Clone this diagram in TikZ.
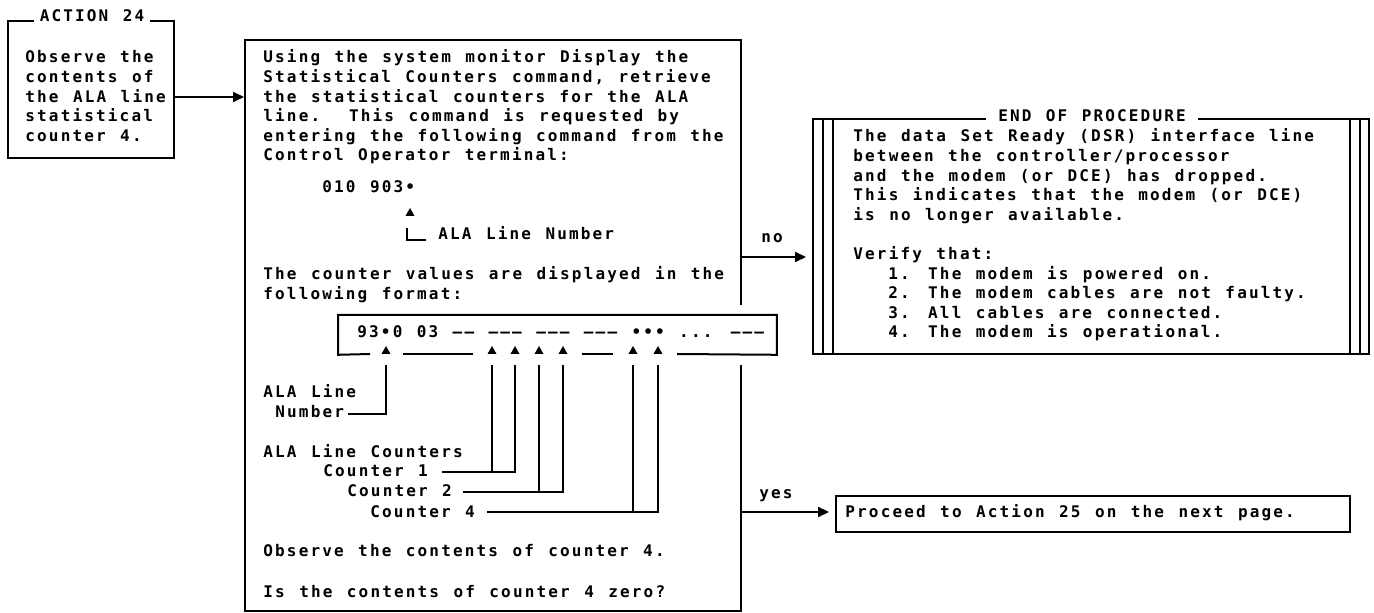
\documentclass[tikz,border=0pt]{standalone}
\usepackage{fontspec}
\newfontfamily\mono[LetterSpace=13.5,WordSpace={1.225,0,0}]{DejaVu Sans Mono}
\usetikzlibrary{arrows.meta}
\newcommand\tline[4]{\node[txt] (#1) at (#2,#3) {#4};}
\newcommand\trimark[3]{\coordinate (#1) at (#2,#3); \fill (#2-4.5,#3) -- (#2+4.5,#3) -- (#2,#3-8) -- cycle;}
\begin{document}
\begin{tikzpicture}[x=0.5pt,y=-0.5pt,
  txt/.style={anchor=base west, inner sep=0pt, font=\mono\bfseries\fontsize{8}{9.8}\selectfont},
  ttl/.style={anchor=center, inner sep=0pt, inner xsep=3pt, fill=white, font=\mono\bfseries\fontsize{8}{9.8}\selectfont},
  box/.style={draw, line width=1pt, anchor=north west, inner sep=0pt},
  ln/.style={line width=1pt},
  arr/.style={line width=1pt, -{Triangle[length=5.5pt,width=5pt]}, shorten >=3pt}]
\useasboundingbox (0,0) rectangle (1374,613);
\fill[white] (0,0) rectangle (1374,613);

% ---- action box
\node[box, minimum width=83pt, minimum height=68.5pt] (act) at (7,20) {};
\node[ttl] (acttitle) at (92,16) {ACTION 24};
\tline{a1}{25}{63}{Observe the}
\tline{a2}{25}{82.6}{contents of}
\tline{a3}{25}{102.2}{the ALA line}
\tline{a4}{25}{121.8}{statistical}
\tline{a5}{25}{141.4}{counter 4.}

% ---- main box
\node[box, minimum width=248pt, minimum height=285.5pt] (main) at (244,39) {};
\fill[white] (736,305) rectangle (744,365);
\tline{m1}{263}{63}{Using the system monitor Display the}
\tline{m2}{263}{82.6}{Statistical Counters command, retrieve}
\tline{m3}{263}{102.2}{the statistical counters for the ALA}
\tline{m4}{263}{121.8}{line.~~This command is requested by}
\tline{m5}{263}{141.4}{entering the following command from the}
\tline{m6}{263}{161}{Control Operator terminal:}
\tline{cmd}{322}{193}{010 903•}
\trimark{tc}{410}{216}
\draw[ln] (407,228) |- (426,240);
\tline{lnum}{438}{240}{ALA Line Number}
\tline{m7}{263}{280}{The counter values are displayed in the}
\tline{m8}{263}{299.6}{following format:}

% format box
\node[anchor=north west, inner sep=0pt, minimum width=219pt, minimum height=19.5pt] (fmt) at (338,315) {};
\draw[ln] (370,354) -- (fmt.south west) -- (fmt.north west) -- (fmt.north east) -- (fmt.south east) -- (677,354);
\draw[ln] (403,354) -- (473,354);
\draw[ln] (582,354) -- (613,354);
\tline{fmttxt}{357}{338}{93•0 03 –– ––– ––– ––– ••• ... –––}
\trimark{t0}{386}{354}
\trimark{t1}{492}{354}
\trimark{t2}{515}{354}
\trimark{t3}{539}{354}
\trimark{t4}{563}{354}
\trimark{t5}{633}{354}
\trimark{t6}{658}{354}

\tline{l1}{263}{398}{ALA Line}
\tline{l2}{275}{418}{Number}
\draw[ln] ([yshift=-5.5pt]t0) -- (t0 |- 0,414) -- (348,414);
\tline{c0}{263}{458}{ALA Line Counters}
\tline{c1}{323}{477}{Counter 1}
\tline{c2}{347}{497}{Counter 2}
\tline{c4}{370}{517}{Counter 4}
\draw[ln] ([yshift=-5.5pt]t1) -- (t1 |- 0,472);
\draw[ln] ([yshift=-5.5pt]t2) -- (t2 |- 0,472) -- (442,472);
\draw[ln] ([yshift=-5.5pt]t3) -- (t3 |- 0,492);
\draw[ln] ([yshift=-5.5pt]t4) -- (t4 |- 0,492) -- (463,492);
\draw[ln] ([yshift=-5.5pt]t5) -- (t5 |- 0,512);
\draw[ln] ([yshift=-5.5pt]t6) -- (t6 |- 0,512) -- (487,512);
\tline{m9}{263}{557}{Observe the contents of counter 4.}
\tline{m10}{263}{597}{Is the contents of counter 4 zero?}

% ---- end of procedure box
\node[box, minimum width=278pt, minimum height=117.5pt] (endp) at (812,118) {};
\draw[ln] ([xshift=5.5pt]endp.north west) -- ([xshift=5.5pt]endp.south west);
\draw[ln] ([xshift=10.5pt]endp.north west) -- ([xshift=10.5pt]endp.south west);
\draw[ln] ([xshift=-5pt]endp.north east) -- ([xshift=-5pt]endp.south east);
\draw[ln] ([xshift=-10pt]endp.north east) -- ([xshift=-10pt]endp.south east);
\node[ttl, inner xsep=6pt] (endtitle) at (1092,116) {END OF PROCEDURE};
\tline{e1}{853}{142}{The data Set Ready (DSR) interface line}
\tline{e2}{853}{161.6}{between the controller/processor}
\tline{e3}{853}{181.2}{and the modem (or DCE) has dropped.}
\tline{e4}{853}{200.8}{This indicates that the modem (or DCE)}
\tline{e5}{853}{220.4}{is no longer available.}
\tline{e6}{853}{259.6}{Verify that:}
\tline{e7}{888}{279.2}{1. The modem is powered on.}
\tline{e8}{888}{298.8}{2. The modem cables are not faulty.}
\tline{e9}{888}{318.4}{3. All cables are connected.}
\tline{e10}{888}{338}{4. The modem is operational.}

% ---- proceed box
\node[box, minimum width=257pt, minimum height=18pt] (proc) at (835,495) {};
\tline{p1}{845}{518}{Proceed to Action 25 on the next page.}

% ---- connectors
\coordinate (aout) at (act.east |- 0,97);
\draw[arr, shorten >=0pt] (aout) -- (aout -| main.west);
\coordinate (noout) at (main.east |- 0,257);
\draw[arr] (noout) -- (noout -| endp.west);
\node[txt, anchor=base] (nolbl) at (772,243) {no};
\coordinate (yesout) at (main.east |- 0,512);
\draw[arr] (yesout) -- (yesout -| proc.west);
\node[txt, anchor=base] (yeslbl) at (776,499) {yes};
\end{tikzpicture}
\end{document}
